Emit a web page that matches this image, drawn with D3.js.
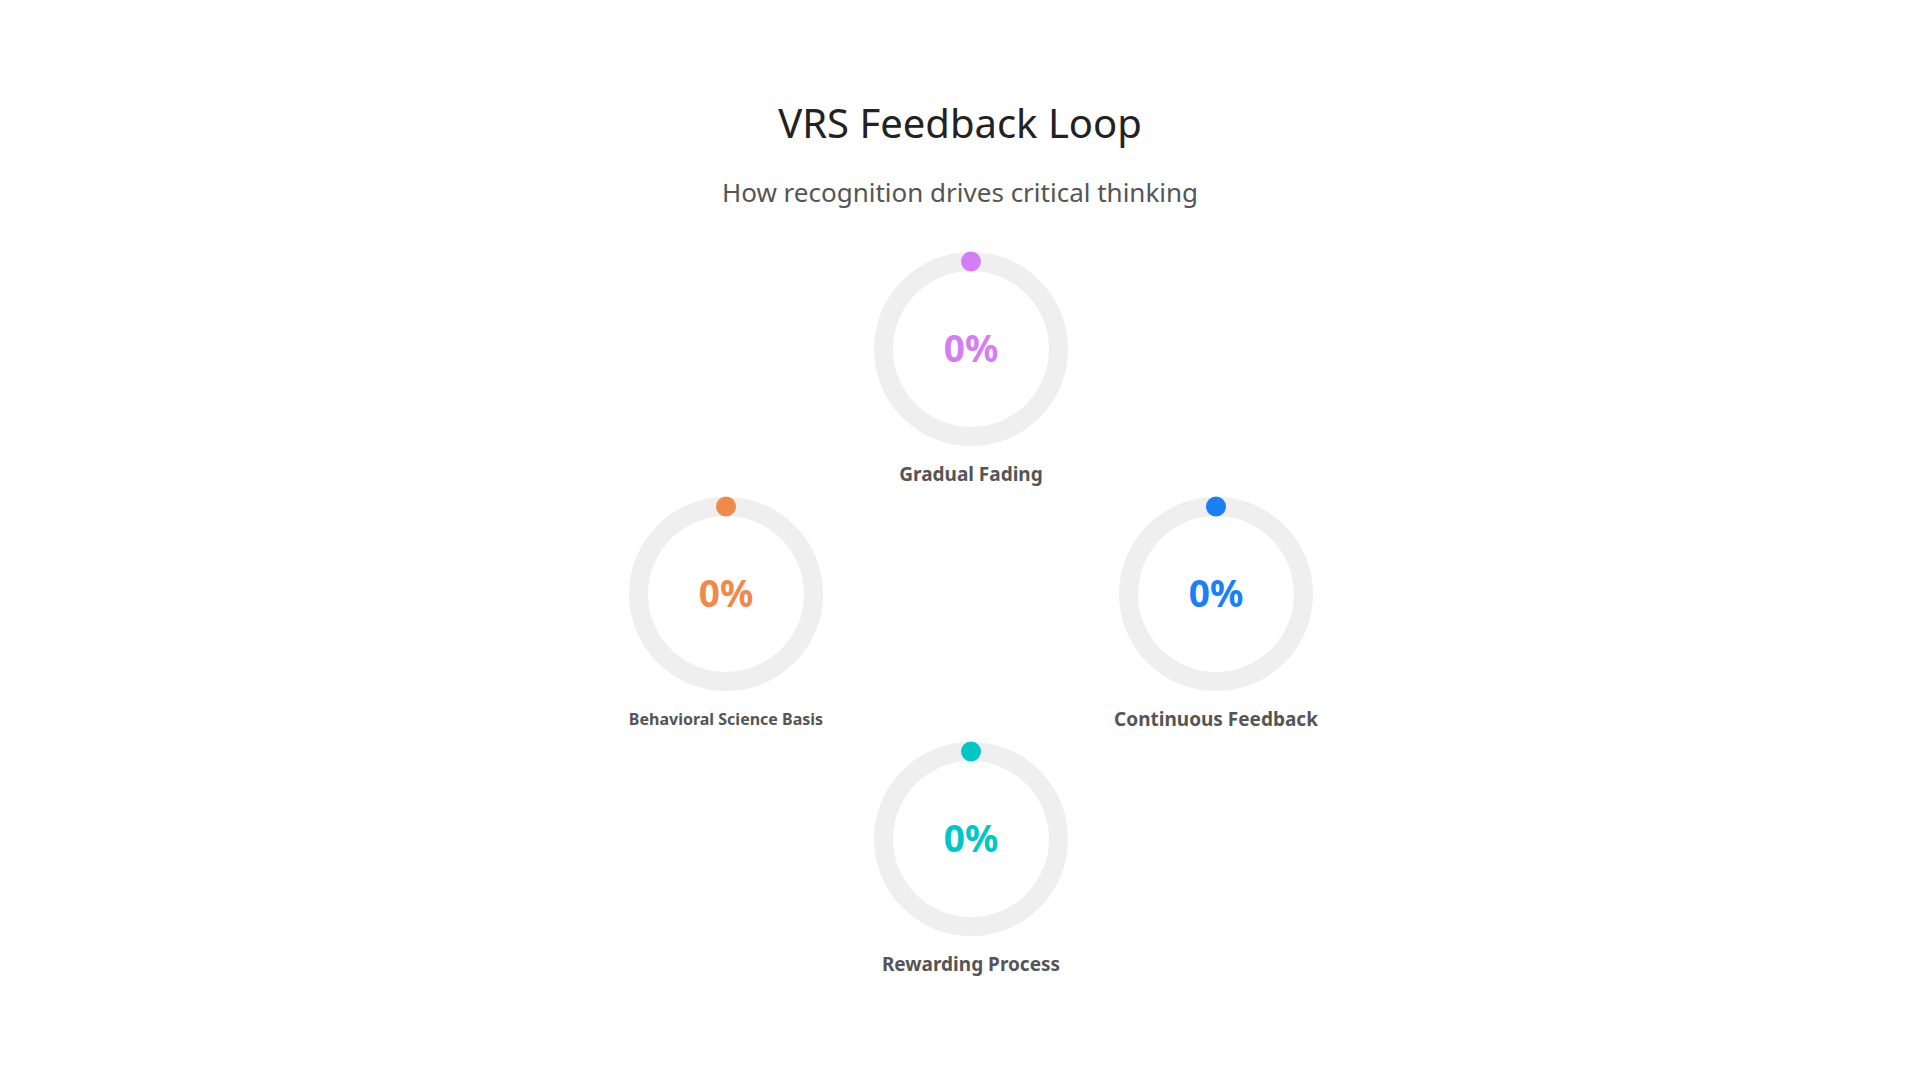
<!DOCTYPE html>
<html>
<head>
<meta charset="utf-8">
<script src="https://cdn.jsdelivr.net/npm/d3@7"></script>
<style>
  body { margin: 0; background: #fff; }
  svg { display: block; font-family: "Noto Sans", "Open Sans", sans-serif; }
</style>
</head>
<body>
<svg id="chart" width="1920" height="1080"></svg>
<script>
// the four stages of the loop, clockwise starting at the top
const stages = ["Gradual Fading", "Continuous Feedback", "Rewarding Process", "Behavioral Science Basis"];
const progress = [0, 0, 0, 0];
const colors = ["#d47ef6", "#1a80f7", "#00c6c8", "#f08a4b"];

const size = { width: 1920, height: 1080 };
const center = { x: 971, y: 594 };
const loopRadius = 245;
const outerR = 97;
const ringW = 19;

const svg = d3.select("#chart");

svg.append("text")
  .attr("x", size.width / 2)
  .attr("y", 127)
  .attr("text-anchor", "middle")
  .attr("dominant-baseline", "middle")
  .attr("fill", "#222")
  .style("font-size", "40px")
  .text("VRS Feedback Loop");

svg.append("text")
  .attr("x", size.width / 2)
  .attr("y", 195)
  .attr("text-anchor", "middle")
  .attr("dominant-baseline", "middle")
  .attr("fill", "#555")
  .style("font-size", "26px")
  .text("How recognition drives critical thinking");

// place each stage round the loop
const angle = d3.scaleLinear().domain([0, stages.length]).range([-Math.PI / 2, Math.PI * 1.5]);
const pct = d3.scaleLinear().domain([0, 100]).range([0, Math.PI * 2]);

const arc = d3.arc()
  .innerRadius(outerR - ringW)
  .outerRadius(outerR)
  .cornerRadius(ringW / 2);

const nodes = svg.selectAll(".stage")
  .data(stages.map((name, i) => ({ name, value: progress[i], color: colors[i], i })))
  .join("g")
  .attr("class", "stage")
  .attr("transform", (d) => {
    const a = angle(d.i);
    return `translate(${center.x + loopRadius * Math.cos(a)}, ${center.y + loopRadius * Math.sin(a)})`;
  });

nodes.append("path")
  .attr("fill", "#efefef")
  .attr("d", arc({ startAngle: 0, endAngle: Math.PI * 2 }));

nodes.append("path")
  .attr("fill", (d) => d.color)
  .attr("d", (d) => arc({ startAngle: 0, endAngle: pct(d.value) }));

// round start cap, visible even when the value is 0
nodes.append("circle")
  .attr("cx", 0)
  .attr("cy", -(outerR - ringW / 2))
  .attr("r", ringW / 2 + 0.5)
  .attr("fill", (d) => d.color);

nodes.append("text")
  .attr("y", 3)
  .attr("text-anchor", "middle")
  .attr("dominant-baseline", "middle")
  .attr("fill", (d) => d.color)
  .style("font-size", "37px")
  .style("font-weight", "bold")
  .text((d) => d.value + "%");

nodes.append("text")
  .attr("y", 127)
  .attr("text-anchor", "middle")
  .attr("dominant-baseline", "middle")
  .attr("fill", "#555")
  .style("font-size", (d) => (d.name.length > 20 ? "16px" : "19px"))
  .style("font-weight", "bold")
  .text((d) => d.name);
</script>
</body>
</html>
